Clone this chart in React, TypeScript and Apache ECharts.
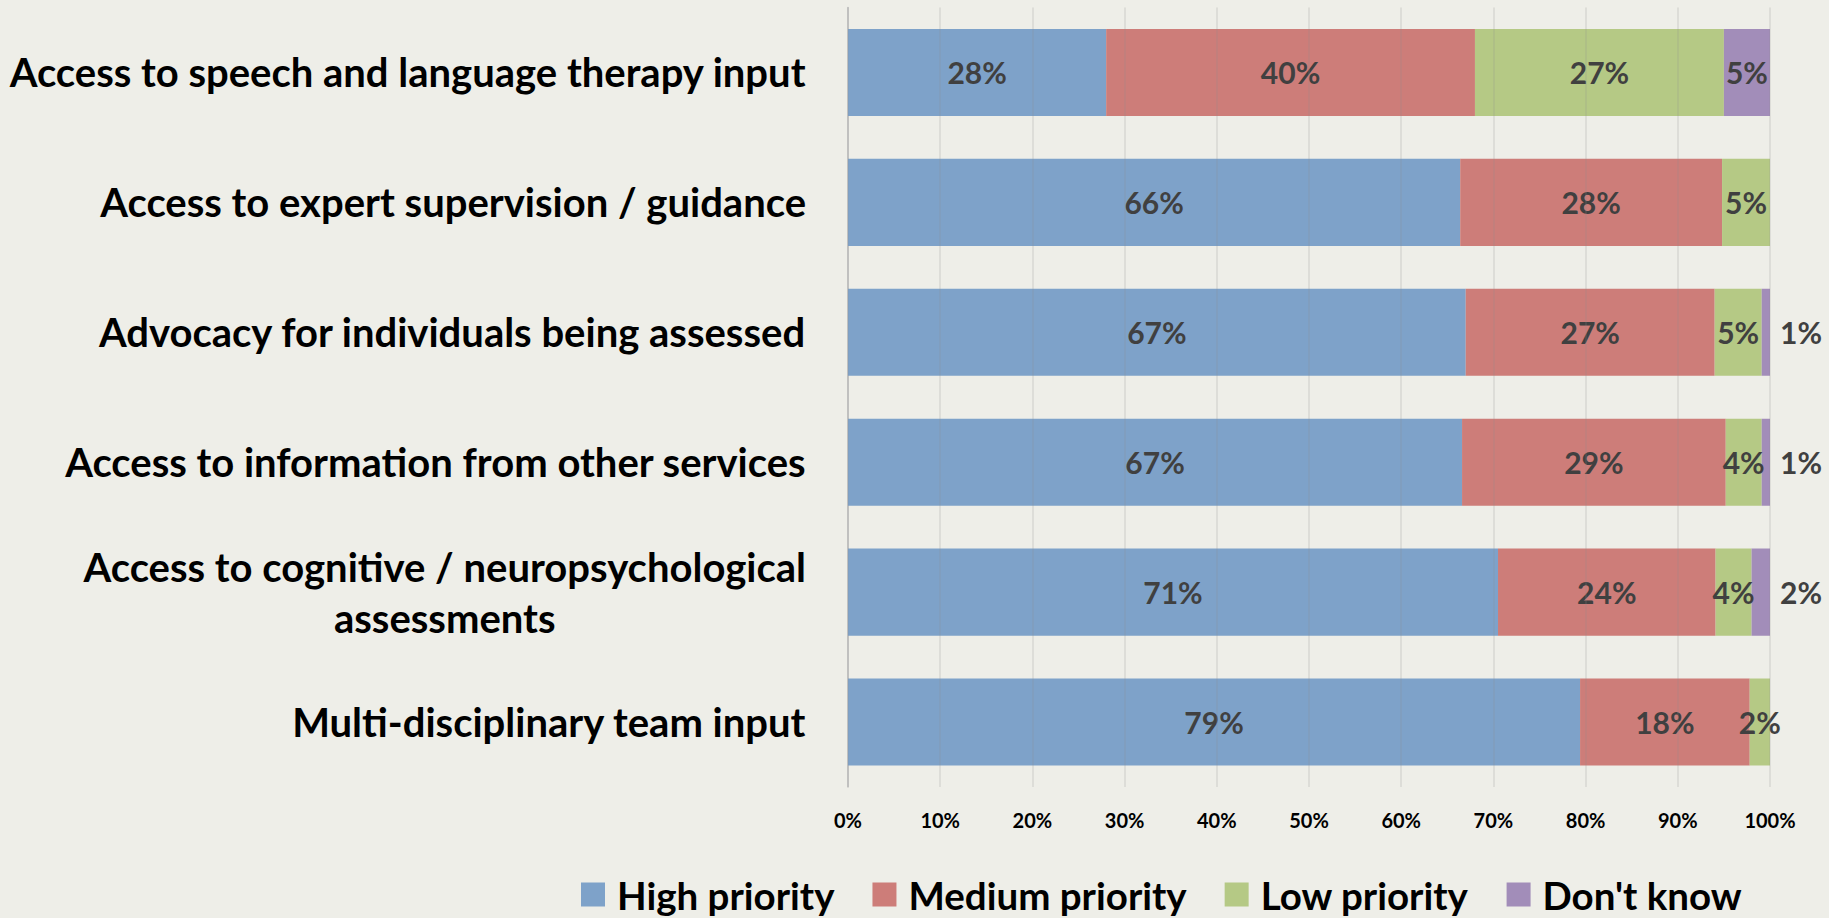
import React, { useEffect, useRef } from "react";
import * as echarts from "echarts";

const categories = [
  "Access to speech and language therapy input",
  "Access to expert supervision / guidance",
  "Advocacy for individuals being assessed",
  "Access to information from other services",
  "Access to cognitive / neuropsychological\nassessments",
  "Multi-disciplinary team input",
];
const seriesNames = ["High priority", "Medium priority", "Low priority", "Don't know"];
const highPriority = [28, 66.4, 67, 66.6, 70.5, 79.4];
const mediumPriority = [40, 28.4, 27, 28.6, 23.6, 18.4];
const lowPriority = [27, 5.2, 5.1, 3.9, 3.9, 2.2];
const dontKnow = [5, 0, 0.9, 0.9, 2.0, 0];
const xTicks = [0, 10, 20, 30, 40, 50, 60, 70, 80, 90, 100];

const colors = ["#7EA2C9", "#CD7D79", "#B5C985", "#A28DB9"];
const FONT = "Lato, 'Open Sans', sans-serif";

export default function App() {
  const ref = useRef<HTMLDivElement>(null);
  useEffect(() => {
    if (!ref.current) return;
    const chart = echarts.init(ref.current, undefined, { renderer: "svg" });
    const allSeries = [highPriority, mediumPriority, lowPriority, dontKnow];
    const labelBase = {
      show: true,
      position: "inside",
      fontSize: 30,
      fontWeight: "bold",
      fontFamily: FONT,
      color: "#404040",
      formatter: (p: any) => (p.value > 0 ? Math.round(p.value) + "%" : ""),
    };
    const series = allSeries.map((vals, si) => ({
      name: seriesNames[si],
      type: "bar",
      stack: "total",
      barCategoryGap: "33%",
      itemStyle: { color: colors[si] },
      label: labelBase,
      data: vals.map((v) =>
        si === 3 && v > 0 && v < 2.5
          ? { value: v, label: { position: "right", distance: 10 } }
          : { value: v }
      ),
    }));
    chart.setOption({
      animation: false,
      backgroundColor: "#EEEEE8",
      color: colors,
      textStyle: { fontFamily: FONT },
      grid: { left: 848, right: 59, top: 7.5, bottom: 918 - 787, containLabel: false },
      xAxis: {
        type: "value",
        min: xTicks[0],
        max: xTicks[xTicks.length - 1],
        interval: 10,
        z: 5,
        axisLine: { show: false },
        axisTick: { show: false },
        splitLine: { show: true, lineStyle: { color: "rgba(140,140,140,0.22)", width: 1.5 } },
        axisLabel: {
          formatter: "{value}%",
          fontSize: 20,
          fontWeight: "bold",
          fontFamily: FONT,
          color: "#000",
          margin: 23,
        },
      },
      yAxis: {
        type: "category",
        inverse: true,
        data: categories,
        axisLine: { show: true, lineStyle: { color: "#BFBFBF", width: 1.5 } },
        axisTick: { show: false },
        axisLabel: {
          margin: 42,
          formatter: (v: string) => v.split("\n").map((l) => `{c|${l}}`).join("\n"),
          rich: {
            c: {
              fontSize: 40,
              fontWeight: "bold",
              fontFamily: FONT,
              color: "#000",
              align: "center",
              lineHeight: 51,
            },
          },
        },
      },
      legend: {
        data: seriesNames,
        left: 576,
        top: 870,
        icon: "rect",
        itemWidth: 24,
        itemHeight: 24,
        itemGap: 38,
        textStyle: {
          fontSize: 38.5,
          fontWeight: "bold",
          fontFamily: FONT,
          color: "#000",
          padding: [0, 0, 0, 7],
        },
      },
      series,
    });
    return () => chart.dispose();
  }, []);
  return (
    <div
      ref={ref}
      style={{ position: "fixed", left: 0, top: 0, width: "1829px", height: "918px" }}
    />
  );
}
